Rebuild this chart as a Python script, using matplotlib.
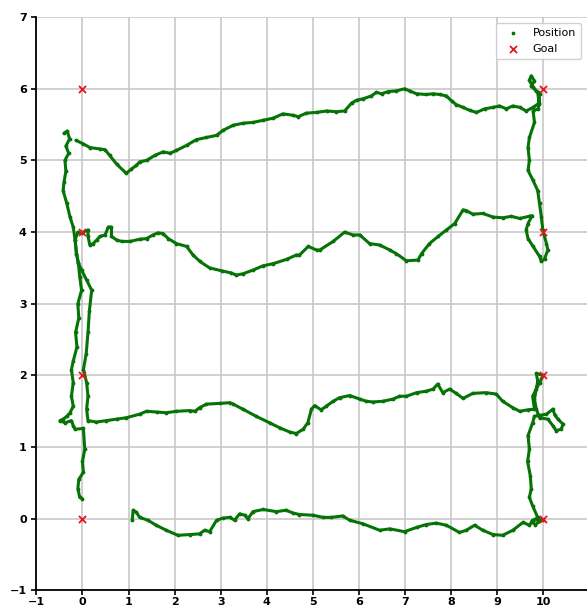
import matplotlib
matplotlib.use('Agg')
import matplotlib.pyplot as plt
import numpy as np

# goal points (lawnmower pattern)
GOAL_X = [0, 10, 10, 0, 0, 10, 10, 0]
GOAL_Y = [0, 0, 2, 2, 4, 4, 6, 6]

# run 1: bottom row, up the right side, back along y~1.5, up the left side to y~4
RUN1_X = [1.08, 1.10, 1.17, 1.24, 1.42, 1.60, 1.82, 2.07, 2.33, 2.54, 2.65, 2.76, 2.91, 3.05,
          3.20, 3.30, 3.41, 3.52, 3.59, 3.70, 3.92, 4.21, 4.42, 4.57, 4.71, 5.00, 5.22, 5.40,
          5.65, 5.80, 6.09, 6.45, 6.67, 6.99, 7.25, 7.46, 7.68, 7.90, 8.18, 8.33, 8.51, 8.69,
          8.91, 9.12, 9.34, 9.56, 9.70, 9.77, 9.99, 9.83, 9.75, 9.88, 9.77, 9.70, 9.74, 9.72,
          9.66, 9.70, 9.67, 9.77, 9.81, 10.07, 10.21, 10.25, 10.32, 10.43, 10.39, 10.28, 10.21,
          10.10, 9.92, 9.85, 9.81, 9.85, 9.88, 9.85, 10.00, 9.92, 9.77, 9.81, 9.66, 9.49, 9.34,
          9.12, 8.98, 8.76, 8.47, 8.26, 8.11, 7.97, 7.82, 7.71, 7.61, 7.46, 7.25, 7.03, 6.88,
          6.74, 6.52, 6.30, 6.16, 6.02, 5.80, 5.58, 5.44, 5.29, 5.18, 5.04, 4.97, 4.89, 4.79,
          4.64, 4.50, 4.28, 4.06, 3.77, 3.48, 3.27, 3.20, 2.98, 2.69, 2.54, 2.44, 2.33, 2.04,
          1.82, 1.61, 1.39, 1.24, 0.95, 0.74, 0.52, 0.30, 0.12, 0.09, 0.12, 0.09, 0.02, 0.08,
          0.12, 0.15, 0.20, 0.09, -0.02, -0.09, -0.13, -0.16, -0.10]
RUN1_Y = [-0.02, 0.12, 0.09, 0.02, -0.02, -0.09, -0.16, -0.23, -0.22, -0.21, -0.16, -0.18,
          -0.02, 0.01, 0.02, -0.02, 0.07, 0.05, 0.00, 0.10, 0.13, 0.10, 0.12, 0.08, 0.06, 0.05,
          0.02, 0.02, 0.04, -0.02, -0.07, -0.16, -0.14, -0.18, -0.12, -0.08, -0.06, -0.09,
          -0.19, -0.16, -0.09, -0.16, -0.22, -0.23, -0.16, -0.05, -0.09, -0.02, -0.01, -0.08,
          -0.04, 0.02, 0.18, 0.30, 0.42, 0.60, 0.80, 0.97, 1.16, 1.34, 1.43, 1.46, 1.53, 1.45,
          1.39, 1.32, 1.25, 1.23, 1.30, 1.39, 1.41, 1.53, 1.67, 1.81, 1.92, 2.03, 2.00, 1.90,
          1.71, 1.53, 1.52, 1.50, 1.55, 1.64, 1.74, 1.76, 1.75, 1.68, 1.75, 1.81, 1.76, 1.88,
          1.81, 1.78, 1.76, 1.71, 1.71, 1.67, 1.64, 1.63, 1.64, 1.67, 1.72, 1.69, 1.64, 1.57,
          1.52, 1.58, 1.53, 1.34, 1.25, 1.19, 1.21, 1.27, 1.34, 1.43, 1.53, 1.60, 1.62, 1.61,
          1.60, 1.55, 1.50, 1.51, 1.50, 1.48, 1.49, 1.50, 1.46, 1.41, 1.39, 1.37, 1.35, 1.37,
          1.53, 1.71, 1.90, 2.08, 2.30, 2.60, 2.90, 3.19, 3.33, 3.47, 3.57, 3.70, 3.89, 4.00]

# run 2: y~4 row, up the right side, back along y~6
RUN2_X = [-0.02, 0.12, 0.12, 0.16, 0.23, 0.31, 0.38, 0.49, 0.56, 0.63, 0.63, 0.74, 0.85, 1.03,
          1.24, 1.39, 1.53, 1.64, 1.75, 1.86, 2.04, 2.26, 2.40, 2.55, 2.76, 3.02, 3.23, 3.34,
          3.49, 3.70, 3.92, 4.14, 4.43, 4.64, 4.71, 4.90, 5.08, 5.15, 5.44, 5.69, 5.87, 6.02,
          6.23, 6.45, 6.67, 6.81, 7.03, 7.28, 7.36, 7.53, 7.72, 7.90, 8.08, 8.26, 8.33, 8.47,
          8.69, 8.91, 9.12, 9.31, 9.49, 9.70, 9.76, 9.67, 9.63, 9.67, 9.78, 9.92, 9.96, 10.03,
          10.10, 10.07, 9.99, 9.96, 9.92, 9.88, 9.78, 9.67, 9.70, 9.67, 9.70, 9.81, 9.78, 9.89,
          9.91, 9.92, 9.85, 9.74, 9.81, 9.74, 9.70, 9.78, 9.88, 9.91, 9.78, 9.63, 9.49, 9.34,
          9.20, 9.05, 8.91, 8.73, 8.55, 8.40, 8.26, 8.11, 8.01, 7.90, 7.75, 7.61, 7.46, 7.25,
          7.10, 6.99, 6.81, 6.63, 6.49, 6.38, 6.27, 6.09, 5.95, 5.84, 5.69, 5.51, 5.30, 5.08,
          4.86, 4.68, 4.57, 4.35, 4.14, 3.92, 3.70, 3.49, 3.27, 3.05, 2.91, 2.69, 2.47, 2.26,
          2.04, 1.90, 1.75, 1.57, 1.39, 1.24, 1.17, 1.06, 0.95, 0.74, 0.59, 0.49, 0.38, 0.16,
          0.02, -0.14]
RUN2_Y = [3.99, 4.03, 3.94, 3.82, 3.84, 3.89, 3.94, 3.96, 4.07, 4.07, 3.94, 3.89, 3.87, 3.87,
          3.90, 3.91, 3.96, 3.99, 3.98, 3.91, 3.84, 3.80, 3.68, 3.59, 3.50, 3.46, 3.43, 3.40,
          3.42, 3.47, 3.53, 3.56, 3.62, 3.68, 3.68, 3.80, 3.75, 3.75, 3.87, 4.00, 3.96, 3.96,
          3.84, 3.82, 3.75, 3.70, 3.60, 3.61, 3.70, 3.84, 3.94, 4.03, 4.12, 4.31, 4.30, 4.25,
          4.26, 4.21, 4.20, 4.22, 4.19, 4.22, 4.23, 4.12, 4.03, 3.91, 3.80, 3.66, 3.59, 3.63,
          3.75, 3.84, 4.03, 4.21, 4.40, 4.58, 4.72, 4.86, 5.00, 5.18, 5.32, 5.53, 5.69, 5.72,
          5.79, 5.93, 5.97, 6.04, 6.11, 6.18, 6.12, 6.02, 5.95, 5.80, 5.74, 5.69, 5.74, 5.76,
          5.72, 5.76, 5.74, 5.72, 5.67, 5.70, 5.74, 5.78, 5.83, 5.90, 5.92, 5.93, 5.92, 5.93,
          5.97, 6.00, 5.97, 5.96, 5.93, 5.95, 5.90, 5.86, 5.84, 5.80, 5.69, 5.68, 5.69, 5.67,
          5.66, 5.61, 5.63, 5.65, 5.59, 5.56, 5.53, 5.52, 5.49, 5.42, 5.35, 5.32, 5.29, 5.21,
          5.14, 5.10, 5.12, 5.07, 5.00, 4.98, 4.93, 4.88, 4.82, 4.95, 5.07, 5.15, 5.16, 5.18,
          5.23, 5.28]

# run 3: down the far left side back to the start
RUN3_X = [-0.40, -0.33, -0.28, -0.36, -0.30, -0.38, -0.36, -0.40, -0.42, -0.34, -0.27, -0.20,
          -0.16, -0.13, -0.09, -0.06, -0.02, -0.10, -0.08, -0.15, -0.12, -0.20, -0.24, -0.20,
          -0.24, -0.20, -0.27, -0.34, -0.42, -0.49, -0.38, -0.24, -0.20, -0.16, 0.02, 0.05,
          0.00, 0.02, -0.08, -0.10, -0.06, 0.00]
RUN3_Y = [5.38, 5.41, 5.30, 5.20, 5.10, 5.00, 4.85, 4.70, 4.58, 4.40, 4.21, 4.07, 3.89, 3.70,
          3.57, 3.38, 3.19, 3.00, 2.80, 2.60, 2.40, 2.20, 2.08, 1.90, 1.71, 1.57, 1.48, 1.43,
          1.39, 1.37, 1.34, 1.37, 1.30, 1.25, 1.26, 0.97, 0.80, 0.65, 0.55, 0.42, 0.30, 0.28]

RUNS = [(RUN1_X, RUN1_Y), (RUN2_X, RUN2_Y), (RUN3_X, RUN3_Y)]
PATH_COLOR = '#067306'

fig = plt.figure(figsize=(5.87, 6.10), dpi=100)
ax = fig.add_axes([0.062, 0.032, 0.938, 0.940])

for rx, ry in RUNS:
    ax.plot(rx, ry, '-', color=PATH_COLOR, lw=2.2, solid_capstyle='round', zorder=3)

all_x = np.concatenate([np.array(r[0]) for r in RUNS])
all_y = np.concatenate([np.array(r[1]) for r in RUNS])
ax.scatter(all_x, all_y, s=3, color=PATH_COLOR, label='Position', zorder=4)
ax.scatter(GOAL_X, GOAL_Y, marker='x', s=26, color='#e8141b', linewidths=1.3,
           label='Goal', zorder=5)

ax.set_xlim(-1, 10.95)
ax.set_ylim(-1, 7)
ax.set_xticks(range(-1, 11))
ax.set_yticks(range(-1, 8))
ax.grid(True, color='#c8c8c8', lw=1.2)
ax.set_axisbelow(True)
ax.spines['top'].set_visible(False)
ax.spines['right'].set_visible(False)
ax.spines['left'].set_linewidth(1.3)
ax.spines['bottom'].set_linewidth(1.3)
ax.tick_params(labelsize=8, width=1.2, length=3.5)
ax.tick_params(axis='x', pad=1.5)
for lab in ax.get_xticklabels() + ax.get_yticklabels():
    lab.set_fontweight('bold')

ax.legend(loc='upper right', fontsize=8, markerscale=1.0, handletextpad=0.8,
          borderpad=0.5, framealpha=0.9)

fig.savefig('out.png', dpi=100)
